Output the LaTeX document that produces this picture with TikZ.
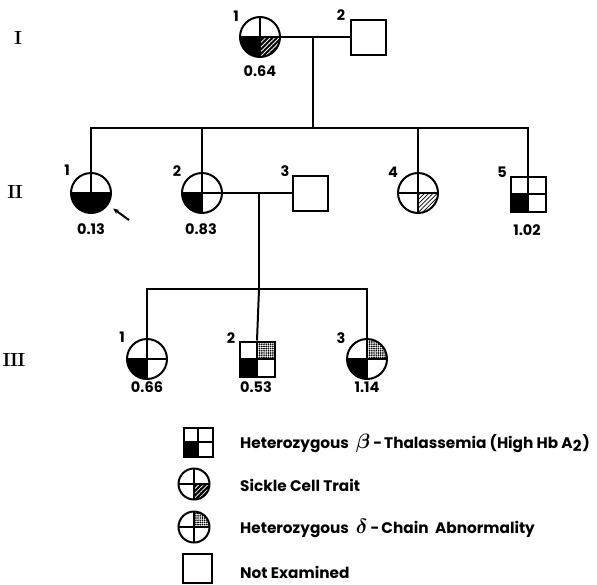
\documentclass[tikz,border=0pt]{standalone}
\usepackage{bm}
\usepackage{fontspec}
\newfontfamily\labfont{Poppins}
\usetikzlibrary{patterns,patterns.meta,arrows.meta}
\newcommand\ppbb{path picture bounding box}
\newcommand\qLL{\fill[black] (\ppbb.center) rectangle (\ppbb.south west);}
\newcommand\qLR{\fill[black] (\ppbb.center) rectangle (\ppbb.south east);}
\newcommand\qLRwh{\fill[black] (\ppbb.center) rectangle (\ppbb.south east);
  \fill[pattern={Lines[angle=45,distance=3.2pt,line width=0.8pt]},pattern color=white] (\ppbb.center) rectangle (\ppbb.south east);}
\newcommand\qLRbl{\fill[pattern={Lines[angle=45,distance=3pt,line width=0.7pt]},pattern color=black] (\ppbb.center) rectangle (\ppbb.south east);}
\newcommand\qURdot{\fill[pattern={Dots[distance=2.2pt,radius=0.95pt]},pattern color=black] (\ppbb.center) rectangle (\ppbb.north east);}
\newcommand\xcross{\draw[line width=1.7pt] (\ppbb.north) -- (\ppbb.south) (\ppbb.west) -- (\ppbb.east);}
\newcommand\bigsym[1]{{\fontsize{20}{20}\selectfont$\bm{#1}$}}
\tikzset{
  fem/.style={circle, draw, line width=2pt, minimum size=40pt, inner sep=0pt},
  mal/.style={rectangle, draw, line width=2pt, minimum size=35pt, inner sep=0pt},
  lfem/.style={circle, draw, line width=2pt, minimum size=31pt, inner sep=0pt},
  lmal/.style={rectangle, draw, line width=2pt, minimum size=29pt, inner sep=0pt},
  lab/.style={font=\labfont\bfseries\fontsize{14.5}{16}\selectfont, inner sep=0pt},
  gen/.style={font=\fontsize{19}{19}\selectfont\bfseries, inner sep=0pt},
  leg/.style={font=\labfont\bfseries\fontsize{15.3}{16}\selectfont, inner sep=0pt, anchor=west},
  link/.style={line width=2pt}
}
\begin{document}
\begin{tikzpicture}[x=1pt,y=-1pt]
\useasboundingbox[fill=white] (0,0) rectangle (597,584);
% generation labels
\node[gen] (gI) at (18,38) {I};
\node[gen] (gII) at (15,192) {I\kern-0.5pt I};
\node[gen] (gIII) at (14,360) {I\kern-0.5pt I\kern-0.5pt I};
% generation I
\node[fem, path picture={\qLL\qLRwh\xcross}] (I1) at (260,37) {};
\node[mal] (I2) at (368,37) {};
\node[lab] (nI1) at (236,16) {1};
\node[lab] (nI2) at (341,15) {2};
\node[lab] (vI1) at (260,71) {0.64};
% generation II
\node[fem, path picture={\qLL\qLR\xcross}] (II1) at (91,193) {};
\node[fem, path picture={\qLL\xcross}] (II2) at (202,193) {};
\node[mal] (II3) at (310,193) {};
\node[fem, path picture={\qLRbl\xcross}] (II4) at (418,193) {};
\node[mal, path picture={\qLL\xcross}] (II5) at (528,194) {};
\node[lab] (nII1) at (67,170) {1};
\node[lab] (nII2) at (177,171) {2};
\node[lab] (nII3) at (285,171) {3};
\node[lab] (nII4) at (393,172) {4};
\node[lab] (nII5) at (502,172) {5};
\node[lab] (vII1) at (91,229) {0.13};
\node[lab] (vII2) at (201,229) {0.83};
\node[lab] (vII5) at (527,230) {1.02};
% generation III
\node[fem, path picture={\qLL\xcross}] (III1) at (147,359) {};
\node[mal, path picture={\qLL\qURdot\xcross}] (III2) at (257,359) {};
\node[fem, path picture={\qLL\qURdot\xcross}] (III3) at (367,359) {};
\node[lab] (nIII1) at (122,337) {1};
\node[lab] (nIII2) at (231,338) {2};
\node[lab] (nIII3) at (341,338) {3};
\node[lab] (vIII1) at (147,387) {0.66};
\node[lab] (vIII2) at (256,387) {0.53};
\node[lab] (vIII3) at (367,387) {1.14};
% connectors
\coordinate (m1) at (313,37);
\coordinate (s2) at (313,128);
\draw[link] (I1.east) -- (I2.west);
\draw[link] (m1) -- (s2);
\draw[link] (II1.north) |- (s2) -| (II5.north);
\draw[link] (II2.north) -- (II2.north |- s2);
\draw[link] (II4.north) -- (II4.north |- s2);
\coordinate (m2) at (259,193);
\coordinate (s3) at (259,289);
\draw[link] (II2.east) -- (II3.west);
\draw[link] (m2) -- (s3);
\draw[link] (III1.north) |- (s3) -| (III3.north);
\draw[link] (III2.north) -- (s3);
% proband arrow
\coordinate (arr) at (129,220);
\draw[line width=2pt, -{Stealth[length=6pt,width=5pt]}, shorten >=6pt] (arr) -- (II1.-35);
% legend
\node[lmal, path picture={\qLL\xcross}] (L1) at (198,442) {};
\node[lfem, path picture={\qLRwh\xcross}] (L2) at (194,484) {};
\node[lfem, path picture={\qURdot\xcross}] (L3) at (194,527) {};
\node[lmal] (L4) at (197,568) {};
\node[leg] (t1) at (240,443) {Heterozygous\hspace{7pt}\bigsym{\beta}\hspace{3pt}-\hspace{2pt}Thalassemia (High Hb A\raisebox{-0.35ex}{2}\hspace{1pt})};
\node[leg] (t2) at (240,485) {Sickle Cell Trait};
\node[leg] (t3) at (240,528) {Heterozygous\hspace{7pt}\bigsym{\delta}\hspace{3pt}-\hspace{2pt}Chain\ \ Abnormality};
\node[leg] (t4) at (240,572) {Not Examined};
\end{tikzpicture}
\end{document}
